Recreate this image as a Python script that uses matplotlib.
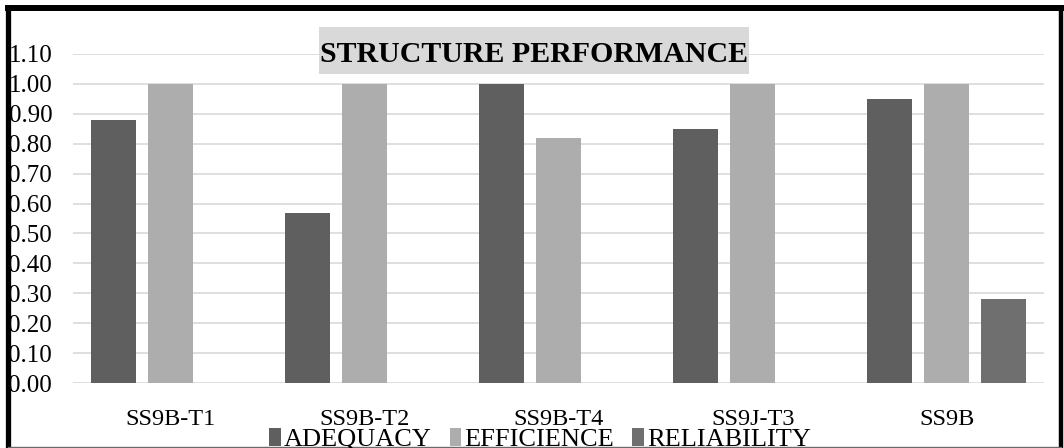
import matplotlib
matplotlib.use("Agg")
import matplotlib.pyplot as plt
import numpy as np
from matplotlib.patches import Rectangle, Patch
from matplotlib.lines import Line2D

categories = ["SS9B-T1", "SS9B-T2", "SS9B-T4", "SS9J-T3", "SS9B"]
adequacy = [0.88, 0.57, 1.00, 0.85, 0.95]
efficience = [1.00, 1.00, 0.82, 1.00, 1.00]
reliability = [0.00, 0.00, 0.00, 0.00, 0.28]
series_names = ["ADEQUACY", "EFFICIENCE", "RELIABILITY"]
y_ticks = [0.00, 0.10, 0.20, 0.30, 0.40, 0.50, 0.60, 0.70, 0.80, 0.90, 1.00, 1.10]
title = "STRUCTURE PERFORMANCE"

colors = ["#5f5f5f", "#adadad", "#6f6f6f"]
W, H = 1064, 448
plt.rcParams["font.family"] = ["Liberation Serif", "DejaVu Serif"]

fig = plt.figure(figsize=(W / 100, H / 100), dpi=100)
ax = fig.add_axes([73 / W, 1 - 383 / H, (1044 - 73) / W, (383 - 54) / H])

x = np.arange(len(categories))
bw = 0.232
off = 0.2935
for i, (vals, c) in enumerate(zip([adequacy, efficience, reliability], colors)):
    ax.bar(x + (i - 1) * off, vals, width=bw, color=c, zorder=2)

ax.set_xlim(-0.5, len(categories) - 0.5)
ax.set_ylim(0, 1.10)
ax.set_yticks(y_ticks)
ax.set_yticklabels([f"{v:.2f}" for v in y_ticks], fontsize=18)
ax.set_xticks(x)
ax.set_xticklabels(categories, fontsize=17.5)
ax.tick_params(axis="y", length=0, pad=15)
ax.tick_params(axis="x", length=0, pad=19)
ax.grid(axis="y", color="#d9d9d9", linewidth=1.2, zorder=0)
for s in ax.spines.values():
    s.set_visible(False)

# Title with shaded box
fig.add_artist(Rectangle((319 / W, 1 - 74 / H), (749 - 319) / W, (74 - 27) / H,
                         transform=fig.transFigure, facecolor="#d9d9d9",
                         edgecolor="none", zorder=5))
fig.text(534 / W, 1 - 62 / H, title, ha="center", va="baseline",
         fontsize=21.5, fontweight="bold", color="black", zorder=6)

# Legend along the bottom edge
handles = [Patch(facecolor=c, edgecolor="none") for c in colors]
fig.legend(handles, series_names, loc="upper center", ncol=3,
           bbox_to_anchor=(540 / W, 1 - 428 / H), frameon=False,
           fontsize=19, handlelength=0.45, handleheight=0.7,
           handletextpad=0.12, columnspacing=0.68, borderpad=0,
           borderaxespad=0)

# Outer frame
k = dict(transform=fig.transFigure, color="black", solid_capstyle="projecting")
fig.add_artist(Line2D([7.5 / W, 7.5 / W], [0, 1 - 8 / H], linewidth=3.8, **k))
fig.add_artist(Line2D([7.5 / W, 1061 / W], [1 - 8 / H, 1 - 8 / H], linewidth=4.3, **k))
fig.add_artist(Line2D([1061 / W, 1061 / W], [0, 1 - 8 / H], linewidth=3.2, **k))
fig.add_artist(Line2D([7.5 / W, 1061 / W], [1.5 / H, 1.5 / H], linewidth=1.0,
                      transform=fig.transFigure, color="#6a6a6a"))

fig.savefig("out.png", dpi=100)
